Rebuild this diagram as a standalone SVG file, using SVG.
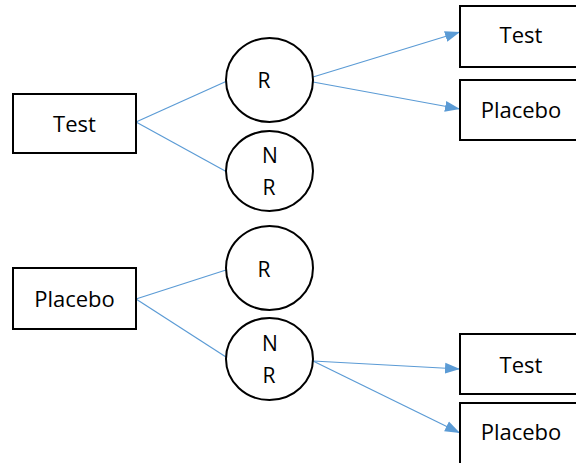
<svg xmlns="http://www.w3.org/2000/svg" width="576" height="463" viewBox="0 0 576 463">
<style>
.box{fill:#fff;stroke:#000;stroke-width:2}
.circ{fill:#fff;stroke:#000;stroke-width:2}
.lbl{font-family:"Open Sans","Liberation Sans",sans-serif;font-size:22px;fill:#000;text-anchor:middle}
.lt{font-family:"Open Sans","Liberation Sans",sans-serif;font-size:21px;fill:#000;text-anchor:middle}
.edge{stroke:#5B9BD5;stroke-width:1.2;fill:none}
</style>
<defs>
<marker id="arr" markerUnits="userSpaceOnUse" markerWidth="16" markerHeight="12" refX="15" refY="6" orient="auto">
<path d="M0,0.5 L15,6 L0,11.5 Z" fill="#5B9BD5"/>
</marker>
</defs>
<g id="connectors">
<line class="edge" x1="136" y1="122" x2="227" y2="81"/>
<line class="edge" x1="136" y1="122" x2="227" y2="172"/>
<line class="edge" x1="136" y1="299" x2="226" y2="270"/>
<line class="edge" x1="136" y1="299" x2="226" y2="357"/>
<line class="edge" x1="313" y1="77" x2="460" y2="32" marker-end="url(#arr)"/>
<line class="edge" x1="313" y1="82" x2="460" y2="109" marker-end="url(#arr)"/>
<line class="edge" x1="313" y1="361" x2="460" y2="369" marker-end="url(#arr)"/>
<line class="edge" x1="313" y1="361" x2="460" y2="433" marker-end="url(#arr)"/>
</g>
<g id="test-left">
<rect class="box" x="13" y="94" width="123" height="59"/>
<text class="lbl" x="74.5" y="132">Test</text>
</g>
<g id="placebo-left">
<rect class="box" x="13" y="268" width="123" height="61"/>
<text class="lbl" x="74.5" y="307">Placebo</text>
</g>
<g id="r-top">
<ellipse class="circ" cx="269.5" cy="80" rx="43.5" ry="42"/>
<text class="lt" x="264" y="88">R</text>
</g>
<g id="nr-top">
<ellipse class="circ" cx="269.5" cy="171" rx="43.5" ry="40"/>
<text class="lt" x="270" y="163">N</text>
<text class="lt" x="269" y="195">R</text>
</g>
<g id="r-bottom">
<ellipse class="circ" cx="269.5" cy="268" rx="43.5" ry="42"/>
<text class="lt" x="264" y="277">R</text>
</g>
<g id="nr-bottom">
<ellipse class="circ" cx="269.5" cy="359" rx="43.5" ry="41"/>
<text class="lt" x="270" y="351">N</text>
<text class="lt" x="269" y="383">R</text>
</g>
<g id="test-top-right">
<rect class="box" x="460" y="6" width="122" height="61"/>
<text class="lbl" x="521" y="43">Test</text>
</g>
<g id="placebo-top-right">
<rect class="box" x="460" y="80" width="122" height="60"/>
<text class="lbl" x="521" y="118">Placebo</text>
</g>
<g id="test-bottom-right">
<rect class="box" x="460" y="334" width="122" height="60"/>
<text class="lbl" x="521" y="373">Test</text>
</g>
<g id="placebo-bottom-right">
<rect class="box" x="460" y="403" width="122" height="65"/>
<text class="lbl" x="521" y="440">Placebo</text>
</g>
</svg>
